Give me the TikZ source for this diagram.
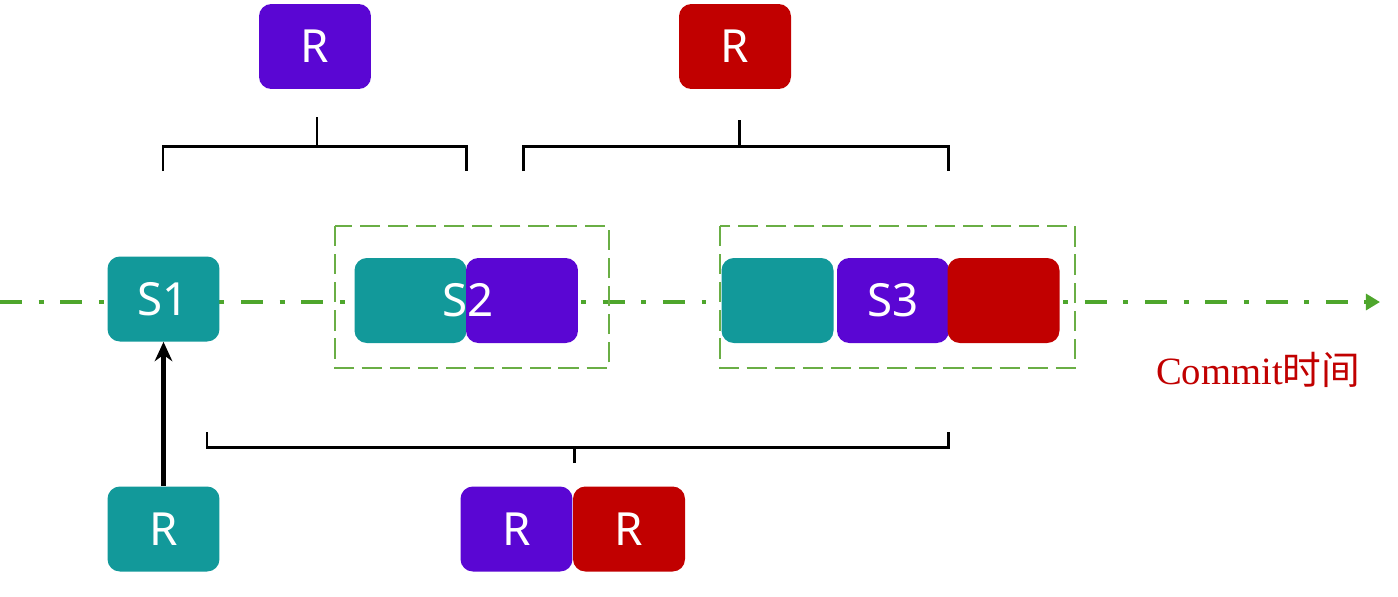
\documentclass[tikz,border=0pt]{standalone}
\usepackage{fontspec}
\newfontfamily\labfont{Noto Sans}
\newfontfamily\serifl{Liberation Serif}
\newfontfamily\cjk{Noto Sans CJK SC}
\usetikzlibrary{arrows.meta}
\definecolor{tealc}{HTML}{12999A}
\definecolor{purpc}{HTML}{5A06D3}
\definecolor{redc}{HTML}{C10000}
\definecolor{greenl}{HTML}{4EA62C}
\definecolor{greend}{HTML}{6AAE45}
\begin{document}
\begin{tikzpicture}[x=0.02cm,y=-0.02cm,
  blk/.style={rounded corners=7pt,minimum width=2.24cm,minimum height=1.70cm,inner sep=0pt,
    text=white,font=\labfont\fontsize{26}{30}\selectfont},
  tealb/.style={blk,fill=tealc},
  purpb/.style={blk,fill=purpc},
  redb/.style={blk,fill=redc},
  frame/.style={draw=greend,line width=1.2pt,dash pattern=on 11.5pt off 4.5pt},
  brk/.style={draw=black,line width=1.7pt},
  timeline/.style={draw=greenl,line width=2.3pt,dash pattern=on 12.5pt off 9.5pt on 2.8pt off 9.5pt,
    -{Triangle[length=8pt,width=9pt]}}]
\useasboundingbox[fill=white] (0,0) rectangle (1398,596);
% timeline
\coordinate (tl0) at (0,302);
\coordinate (tl1) at (1380,302);
\draw[timeline] (tl0) -- (tl1);
% dashed frames
\draw[frame] (335,226) rectangle (609,368);
\draw[frame] (720,226) rectangle (1075,368);
% top boxes
\node[purpb] (topP) at (315,46.5) {R};
\node[redb] (topR) at (735,46.5) {R};
% timeline boxes
\node[tealb] (s1) at (163.5,299) {S1};
\node[tealb] (s2a) at (410.5,300.5) {};
\node[purpb] (s2b) at (522,300.5) {};
\node[text=white,font=\labfont\fontsize{26}{30}\selectfont] (s2t) at (468,300) {S2};
\node[tealb] (s3a) at (777.5,300.5) {};
\node[purpb] (s3b) at (893,300.5) {S3};
\node[redb] (s3c) at (1003.5,300.5) {};
% bottom boxes
\node[tealb] (botR) at (163.5,529) {R};
\node[purpb] (botP) at (516.5,529) {R};
\node[redb] (botRd) at (629,529) {R};
% label
\node[text=redc,font=\fontsize{22}{26}\selectfont] (commit) at (1258,370) {\serifl Commit\cjk 时间};
% top brackets
\coordinate (b1l) at (163,171);
\coordinate (b1r) at (466,171);
\coordinate (b1s) at (317,117);
\draw[brk] (b1l) -- (163,146) -- (466,146) -- (b1r);
\draw[brk] (b1s) -- (317,146);
\coordinate (b2l) at (523,171);
\coordinate (b2r) at (948,171);
\coordinate (b2s) at (739,120);
\draw[brk] (b2l) -- (523,146) -- (948,146) -- (b2r);
\draw[brk] (b2s) -- (739,146);
% bottom bracket
\coordinate (b3l) at (207,432);
\coordinate (b3r) at (948,432);
\coordinate (b3s) at (574,463);
\draw[brk] (b3l) -- (207,447) -- (948,447) -- (b3r);
\draw[brk] (b3s) -- (574,447);
% arrow
\draw[draw=black,line width=2.3pt,-{Stealth[length=11pt,width=10pt]}] (botR) -- (s1);
\end{tikzpicture}
\end{document}
